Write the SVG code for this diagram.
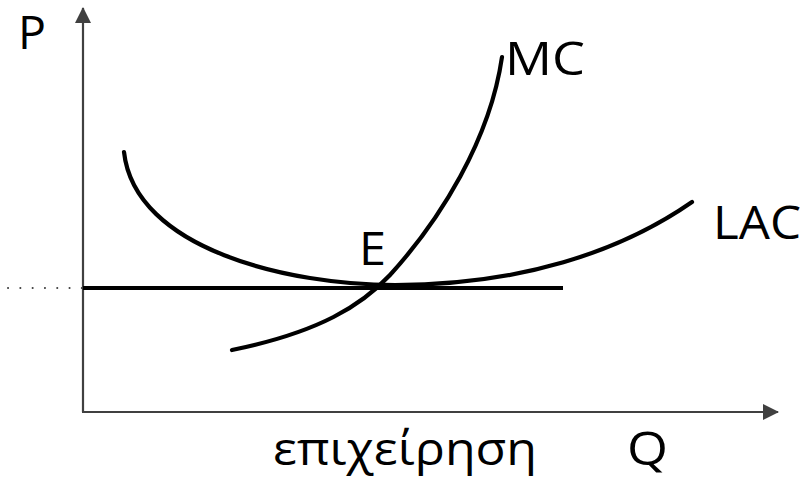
<svg xmlns="http://www.w3.org/2000/svg" width="811" height="478" viewBox="0 0 811 478">
<style>
.axis{stroke:#404040;stroke-width:2.2;fill:none}
.curve{stroke:#000;stroke-width:4.2;fill:none;stroke-linecap:round}
.lbl{font-family:"Open Sans","Noto Sans",sans-serif;fill:#000;font-size:45px}
</style>
<defs>
<marker id="ah" viewBox="0 0 16 16" refX="15" refY="8" markerWidth="16" markerHeight="16" markerUnits="userSpaceOnUse" orient="auto">
<path d="M0,0 L16,8 L0,16 Z" fill="#404040"/>
</marker>
</defs>
<rect width="811" height="478" fill="#fff"/>
<g id="connectors">
<line id="y-axis" class="axis" x1="83" y1="412" x2="83" y2="8" marker-end="url(#ah)"/>
<line id="x-axis" class="axis" x1="82" y1="412" x2="778" y2="412" marker-end="url(#ah)"/>
<line id="dotted" x1="8" y1="288" x2="82" y2="288" stroke="#404040" stroke-width="2" stroke-dasharray="0.1 12.2" stroke-linecap="round"/>
<line id="price" x1="83" y1="288" x2="563" y2="288" stroke="#000" stroke-width="4"/>
<path id="LAC" class="curve" d="M124,152 C135,250 290,285 395,285 C520,285 620,252 692,202"/>
<path id="MC" class="curve" d="M232,350 C320,332 362,305 390,275 C440,220 490,140 502,57"/>
</g>
<g id="label-P"><text class="lbl" x="18" y="49" textLength="28" lengthAdjust="spacingAndGlyphs">P</text></g>
<g id="label-MC"><text class="lbl" x="505" y="75" textLength="80" lengthAdjust="spacingAndGlyphs">MC</text></g>
<g id="label-LAC"><text class="lbl" x="713" y="239" textLength="88" lengthAdjust="spacingAndGlyphs">LAC</text></g>
<g id="label-E"><text class="lbl" x="359" y="265" textLength="27" lengthAdjust="spacingAndGlyphs">E</text></g>
<g id="label-firm"><text class="lbl" x="273" y="465" textLength="264" lengthAdjust="spacingAndGlyphs">επιχείρηση</text></g>
<g id="label-Q"><text class="lbl" x="627" y="465" textLength="41" lengthAdjust="spacingAndGlyphs">Q</text></g>
</svg>
